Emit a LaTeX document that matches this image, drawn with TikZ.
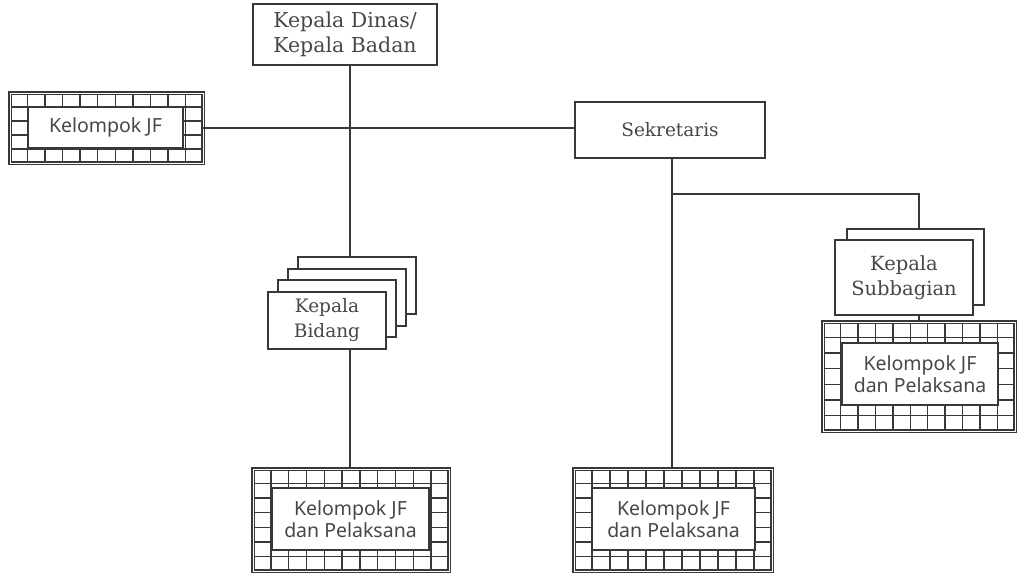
\documentclass[tikz,border=0pt]{standalone}
\usepackage{fontspec}
\setmainfont{DejaVu Serif}
\newfontfamily\jffont{Noto Sans}
\usetikzlibrary{calc}
\definecolor{ink}{HTML}{383838}
\definecolor{txt}{HTML}{474747}

\begin{document}
\begin{tikzpicture}[x=1pt,y=-1pt,
  every node/.style={inner sep=0pt, outer sep=0pt},
  conn/.style={draw=ink, line width=2.2pt},
  unit/.style={draw=ink, line width=2pt, fill=white, text=txt, align=center,
    font=\fontsize{18.5}{25}\selectfont},
  jfbox/.style={draw=ink, line width=1.3pt, fill=white, text=txt, align=center,
    font=\jffont\fontsize{19.5}{22}\selectfont},
  gridline/.style={draw=ink, line width=1.5pt},
  gridbox/.style n args={2}{draw=ink, line width=1.8pt, double=white, double distance=0.9pt,
    fill=white,
    path picture={
      \foreach \k in {1,...,#1}{
        \draw[gridline]
          ($(path picture bounding box.north west)!{\k/#1}!(path picture bounding box.north east)$) --
          ($(path picture bounding box.south west)!{\k/#1}!(path picture bounding box.south east)$);
      }
      \foreach \k in {1,...,#2}{
        \draw[gridline]
          ($(path picture bounding box.north west)!{\k/#2}!(path picture bounding box.south west)$) --
          ($(path picture bounding box.north east)!{\k/#2}!(path picture bounding box.south east)$);
      }
    }},
]
\useasboundingbox (0,0) rectangle (1017,576);

% spines of the chart
\coordinate (spine) at (350,0);
\coordinate (fork) at (672,194);

% head of the office
\node[unit, minimum width=184, minimum height=61, font=\fontsize{20.5}{25}\selectfont]
  (head) at (345,34.5) {Kepala Dinas/\\Kepala Badan};

% secretary
\node[unit, minimum width=190, minimum height=56] (sek) at (670,130) {Sekretaris};

% functional group beside the head
\node[gridbox={11}{5}, minimum width=193, minimum height=70] (jfl) at (106.5,128) {};
\node[jfbox, minimum width=155, minimum height=41] (jflt) at (105.5,127.5) {Kelompok JF};

% stacked heads of division
\foreach \k in {3,2,1}{
  \node[unit, minimum width=118, minimum height=57] (bid\k) at ({327+10*\k},{320.5-11.7*\k}) {};
}
\node[unit, minimum width=118, minimum height=57] (bid0) at (327,320.5) {Kepala\\Bidang};

% functional group under the divisions
\node[gridbox={11}{7}, minimum width=196, minimum height=102] (bljf) at (351,520) {};
\node[jfbox, minimum width=157, minimum height=62] (bljft) at (350.5,519)
  {Kelompok JF\\dan Pelaksana};

% functional group under the secretary
\node[gridbox={11}{7}, minimum width=198, minimum height=102] (bmjf) at (673,520) {};
\node[jfbox, minimum width=163, minimum height=62] (bmjft) at (673.5,519)
  {Kelompok JF\\dan Pelaksana};

% stacked heads of subdivision
\node[unit, minimum width=137, minimum height=76] (sub1) at (915.5,267) {};
\node[unit, minimum width=138, minimum height=75, font=\fontsize{19.5}{25}\selectfont]
  (sub0) at (904,277.5) {Kepala\\Subbagian};

% functional group under the subdivisions
\node[gridbox={11}{7}, minimum width=192, minimum height=109] (rjf) at (919,376.5) {};
\node[jfbox, minimum width=156, minimum height=62] (rjft) at (920,374)
  {Kelompok JF\\dan Pelaksana};

% connectors
\draw[conn] (jfl.east) -- (jfl.east -| sek.west);
\draw[conn] (head.south -| spine) -- (bid3.north -| spine);
\draw[conn] (bid0.south -| spine) -- (bljf.north -| spine);
\draw[conn] (sek.south -| fork) -- (bmjf.north -| fork);
\draw[conn] (fork) -| (sub1.north -| rjf.north);
\draw[conn] (sub0.south -| rjf.north) -- (rjf.north);
\end{tikzpicture}
\end{document}
